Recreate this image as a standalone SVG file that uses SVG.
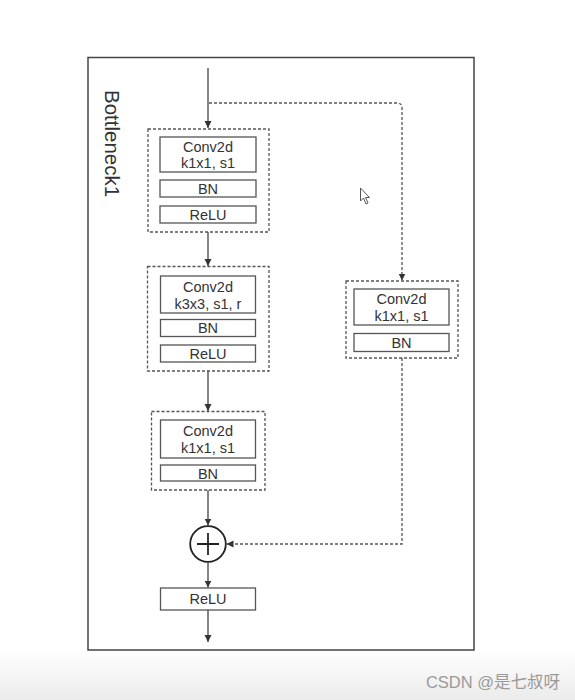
<svg xmlns="http://www.w3.org/2000/svg" width="575" height="700" viewBox="0 0 575 700">
<defs>
<linearGradient id="band" x1="0" y1="0" x2="0" y2="1">
<stop offset="0" stop-color="#ffffff"/>
<stop offset="1" stop-color="#ebebeb"/>
</linearGradient>
<marker id="arr" markerUnits="userSpaceOnUse" markerWidth="8" markerHeight="8" refX="7" refY="3.5" orient="auto">
<path d="M0,0 L7,3.5 L0,7 z" fill="#333"/>
</marker>
<style>
.frame{fill:#fff;stroke:#444;stroke-width:1.5}
.grp{fill:none;stroke:#555;stroke-width:1.3;stroke-dasharray:3 2}
.box{fill:#fff;stroke:#555;stroke-width:1.3}
.t{font-family:"Liberation Sans",Arial,sans-serif;font-size:14.5px;fill:#333;text-anchor:middle}
.ln{fill:none;stroke:#444;stroke-width:1.3}
.dl{fill:none;stroke:#555;stroke-width:1.3;stroke-dasharray:3 2}
</style>
</defs>
<rect x="0" y="0" width="575" height="700" fill="#fff"/>
<rect x="0" y="650" width="575" height="50" fill="url(#band)"/>
<rect class="frame" x="88" y="57.5" width="386" height="592.5"/>
<text x="105" y="90" transform="rotate(90 105 90)" font-family="'Liberation Sans',Arial,sans-serif" font-size="20.5" fill="#333" dominant-baseline="alphabetic" text-anchor="start">Bottleneck1</text>

<g id="block1">
<rect class="grp" x="148" y="129" width="121" height="103"/>
<rect class="box" x="160" y="137" width="96" height="35"/>
<text class="t" x="208" y="152">Conv2d</text>
<text class="t" x="208" y="168">k1x1, s1</text>
<rect class="box" x="160" y="180" width="96" height="17"/>
<text class="t" x="208" y="194">BN</text>
<rect class="box" x="160" y="206" width="96" height="17"/>
<text class="t" x="208" y="220">ReLU</text>
</g>

<g id="block2">
<rect class="grp" x="147.5" y="266.5" width="121.5" height="104.5"/>
<rect class="box" x="160.5" y="276" width="95" height="37"/>
<text class="t" x="208" y="292">Conv2d</text>
<text class="t" x="208" y="309">k3x3, s1, r</text>
<rect class="box" x="160.5" y="319.5" width="95" height="17"/>
<text class="t" x="208" y="333">BN</text>
<rect class="box" x="160.5" y="345" width="95" height="17"/>
<text class="t" x="208" y="359">ReLU</text>
</g>

<g id="block3">
<rect class="grp" x="151.5" y="411.5" width="113.5" height="78.5"/>
<rect class="box" x="160.5" y="420" width="95" height="38"/>
<text class="t" x="208" y="436">Conv2d</text>
<text class="t" x="208" y="453">k1x1, s1</text>
<rect class="box" x="160.5" y="465" width="95" height="16"/>
<text class="t" x="208" y="478.5">BN</text>
</g>

<g id="shortcut">
<rect class="grp" x="346" y="281" width="112" height="77"/>
<rect class="box" x="354" y="289" width="95" height="36"/>
<text class="t" x="401.5" y="304">Conv2d</text>
<text class="t" x="401.5" y="321">k1x1, s1</text>
<rect class="box" x="354" y="333.5" width="95" height="18"/>
<text class="t" x="401.5" y="347.5">BN</text>
</g>

<g id="add">
<circle cx="208" cy="544" r="17.8" fill="#fff" stroke="#222" stroke-width="1.8"/>
<path d="M197,544 H219 M208,533 V555" stroke="#222" stroke-width="1.8" fill="none"/>
</g>

<g id="relu_out">
<rect class="box" x="160.5" y="588" width="95" height="22"/>
<text class="t" x="208" y="604">ReLU</text>
</g>

<g id="connectors">
<path class="ln" d="M208,68 V128" marker-end="url(#arr)"/>
<path class="ln" d="M208,232 V266" marker-end="url(#arr)"/>
<path class="ln" d="M208,371 V411" marker-end="url(#arr)"/>
<path class="ln" d="M208,490 V525.5" marker-end="url(#arr)"/>
<path class="ln" d="M208,562 V587.5" marker-end="url(#arr)"/>
<path class="ln" d="M208,610 V642" marker-end="url(#arr)"/>
<path class="dl" d="M209,103 H397 Q402,103 402,108 V280.5" marker-end="url(#arr)"/>
<path class="dl" d="M402,358 V544 H226.5" marker-end="url(#arr)"/>
</g>

<path d="M360.5,188 L360.5,201 L363.5,198 L366,204 L368,203 L365.5,197.5 L369.5,197.5 Z" fill="#fff" stroke="#555" stroke-width="1"/>

<text x="560" y="688" font-family="'Liberation Sans','Noto Sans CJK SC',sans-serif" font-size="16.5" fill="#9a9a9a" text-anchor="end">CSDN @是七叔呀</text>
</svg>
